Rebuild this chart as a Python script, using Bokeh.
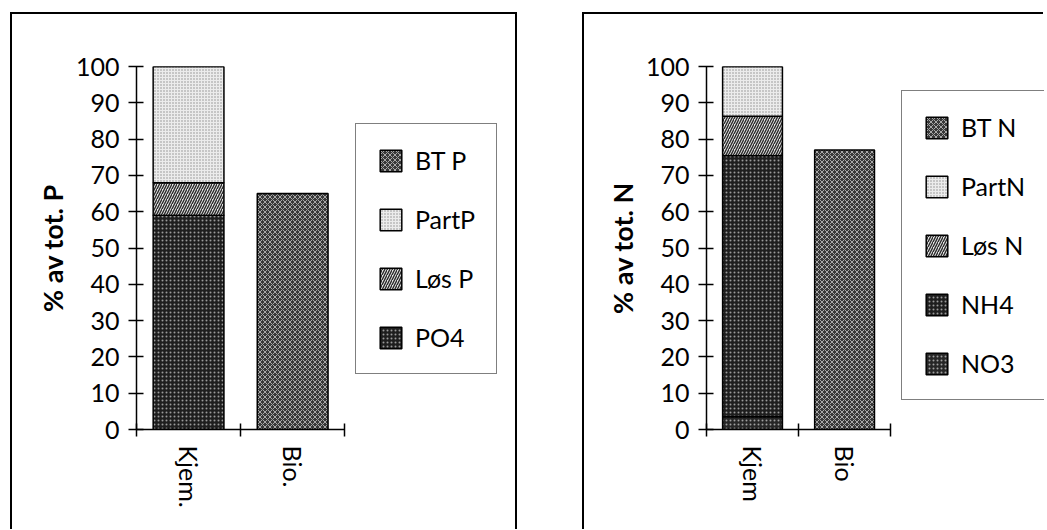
from bokeh.plotting import figure
from bokeh.models import ColumnDataSource, Range1d, FixedTicker, Legend, LegendItem
from bokeh.layouts import row
from bokeh.embed import file_html
from bokeh.resources import INLINE

# ---------------- data ----------------
categories_p = ["Kjem.", "Bio."]
p_po4 = [59.0, 0.0]
p_los = [9.0, 0.0]
p_part = [32.0, 0.0]
p_bt = [0.0, 65.0]

categories_n = ["Kjem", "Bio"]
n_no3 = [3.5, 0.0]
n_nh4 = [72.0, 0.0]
n_los = [10.8, 0.0]
n_part = [13.7, 0.0]
n_bt = [0.0, 77.0]

y_ticks = [0, 10, 20, 30, 40, 50, 60, 70, 80, 90, 100]

FONT = "Lato"

STYLE = {
    "dark": dict(fill_color="#1e1e1e", hatch_pattern="dot", hatch_color="#9a9a9a", hatch_scale=4, hatch_weight=1.2),
    "dark2": dict(fill_color="#262626", hatch_pattern="dot", hatch_color="#a0a0a0", hatch_scale=4, hatch_weight=1.2),
    "mesh": dict(fill_color="#383838", hatch_pattern="diagonal_cross", hatch_color="#a8a8a8", hatch_scale=5, hatch_weight=1.0),
    "light": dict(fill_color="#ececec", hatch_pattern="dot", hatch_color="#8c8c8c", hatch_scale=3, hatch_weight=1.0),
    "hatch": dict(fill_color="#e4e4e4", hatch_pattern="right_diagonal_line", hatch_color="#2a2a2a", hatch_scale=5, hatch_weight=1.4),
}


def make_panel(categories, series, legend_order, ylabel, width, height, borders,
               axis_px, bar_width, legend_loc, margin, css):
    n = len(categories)
    xs = [i + 0.5 for i in range(n)]
    data = {"x": xs}
    for name, vals, _ in series:
        data[name] = vals
    src = ColumnDataSource(data)

    frame_w = width - borders[0] - borders[1]
    x_end = n * frame_w / axis_px   # axis occupies axis_px pixels, legend room on the right

    p = figure(width=width, height=height, output_backend="svg", toolbar_location=None,
               x_range=Range1d(0, x_end), y_range=Range1d(0, 100),
               min_border_left=borders[0], min_border_right=borders[1],
               min_border_top=borders[2], min_border_bottom=borders[3],
               margin=margin, styles=css)
    p.outline_line_color = None
    p.xgrid.visible = False
    p.ygrid.visible = False
    p.background_fill_color = "white"
    p.border_fill_color = "white"

    renderers = {}
    bottom = [0.0] * n
    for name, vals, style in series:
        top = [b + v for b, v in zip(bottom, vals)]
        src.data[name + "_b"] = list(bottom)
        src.data[name + "_t"] = top
        r = p.vbar(x="x", bottom=name + "_b", top=name + "_t", width=bar_width, source=src,
                   line_color="black", line_width=1.5, **STYLE[style])
        renderers[name] = r
        bottom = top

    # y axis
    ya = p.yaxis[0]
    ya.ticker = FixedTicker(ticks=y_ticks, minor_ticks=[])
    ya.axis_line_width = 1.5
    ya.major_tick_line_width = 1.5
    ya.major_tick_in = 7
    ya.major_tick_out = 8
    ya.major_label_standoff = 9
    ya.major_label_text_font = FONT
    ya.major_label_text_font_size = "25px"
    ya.major_label_text_color = "black"
    ya.axis_label = ylabel
    ya.axis_label_text_font = FONT
    ya.axis_label_text_font_style = "bold"
    ya.axis_label_text_font_size = "27px"
    ya.axis_label_text_color = "black"
    ya.axis_label_standoff = 4

    # x axis
    xa = p.xaxis[0]
    xa.bounds = (0, n)
    xa.ticker = FixedTicker(ticks=xs, minor_ticks=list(range(n + 1)))
    xa.major_label_overrides = {x: c for x, c in zip(xs, categories)}
    xa.axis_line_width = 1.5
    xa.major_tick_line_color = None
    xa.major_tick_in = 0
    xa.major_tick_out = 7
    xa.minor_tick_line_color = "black"
    xa.minor_tick_line_width = 1.5
    xa.minor_tick_in = 6
    xa.minor_tick_out = 7
    xa.major_label_orientation = "vertical"
    xa.major_label_standoff = 9
    xa.major_label_text_font = FONT
    xa.major_label_text_font_size = "25px"
    xa.major_label_text_color = "black"

    items = [LegendItem(label=lbl, renderers=[renderers[key]]) for key, lbl in legend_order]
    leg = Legend(items=items, location=legend_loc, margin=0, padding=21, spacing=29,
                 glyph_width=27, glyph_height=27, label_height=27, label_standoff=11,
                 label_text_font=FONT, label_text_font_size="25px", label_text_color="black",
                 border_line_color="black", border_line_width=1.5,
                 background_fill_color="white", background_fill_alpha=1.0)
    p.add_layout(leg)
    return p


series_p = [("PO4", p_po4, "dark"), ("LosP", p_los, "hatch"), ("PartP", p_part, "light"), ("BTP", p_bt, "mesh")]
legend_p = [("BTP", "BT P"), ("PartP", "PartP"), ("LosP", "Løs P"), ("PO4", "PO4")]

series_n = [("NO3", n_no3, "dark2"), ("NH4", n_nh4, "dark"), ("LosN", n_los, "hatch"), ("PartN", n_part, "light"), ("BTN", n_bt, "mesh")]
legend_n = [("BTN", "BT N"), ("PartN", "PartN"), ("LosN", "Løs N"), ("NH4", "NH4"), ("NO3", "NO3")]

border_css_left = {"border-top": "2px solid black", "border-left": "2px solid black",
                   "border-right": "2px solid black", "box-sizing": "content-box"}
border_css_right = {"border-top": "2px solid black", "border-left": "2px solid black",
                    "box-sizing": "content-box"}

p1 = make_panel(categories_p, series_p, legend_p, "% av tot. P", width=503, height=515,
                borders=(124, 5, 52, 102), axis_px=206, bar_width=0.68, legend_loc=(219, 55),
                margin=(12, 0, 0, 10), css=border_css_left)
p2 = make_panel(categories_n, series_n, legend_n, "% av tot. N", width=459, height=515,
                borders=(122, 1, 52, 97), axis_px=183, bar_width=0.65, legend_loc=(195, 29),
                margin=(12, 0, 0, 65), css=border_css_right)

layout = row(p1, p2)
open("out.html", "w").write(file_html(layout, INLINE))
